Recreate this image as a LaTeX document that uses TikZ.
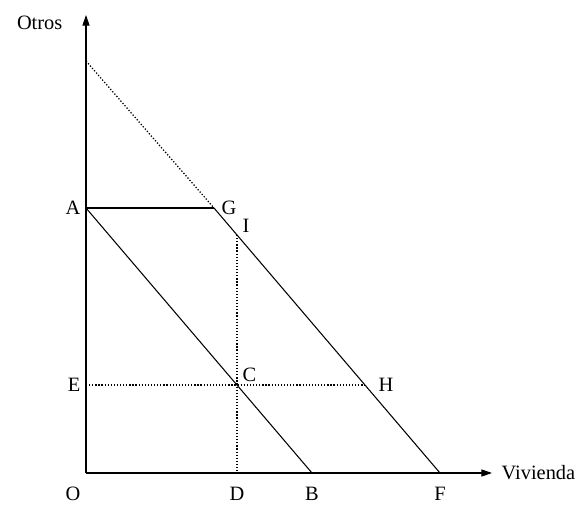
\documentclass[tikz,border=0pt]{standalone}
\usepackage{fontspec}
\setmainfont{Liberation Serif}
\usetikzlibrary{positioning,arrows.meta}
\tikzset{
  >={Triangle[length=7.5pt,width=5pt]},
  eje/.style={->, line width=0.75pt},
  recta/.style={line width=0.75pt},
  punteo/.style={line width=0.9pt, dash pattern=on 0.9pt off 1.3pt},
  etq/.style={inner sep=1pt, font=\fontsize{14.5}{16}\selectfont},
}

\begin{document}
\begin{tikzpicture}
  \useasboundingbox (-2.15,-1.05) rectangle (12.525,11.825);
  % Puntos
  \coordinate (O) at (0,0);
  \coordinate (Ytop) at (0,11.45);
  \coordinate (Xtop) at (10.15,0);
  \coordinate (A) at (0,6.625);
  \coordinate (P) at (0,10.3);
  \coordinate (G) at (3.2,6.625);
  \coordinate (I) at (3.774,5.95);
  \coordinate (E) at (0,2.2);
  \coordinate (C) at (3.774,2.2);
  \coordinate (H) at (6.974,2.2);
  \coordinate (D) at (3.774,0);
  \coordinate (B) at (5.65,0);
  \coordinate (F) at (8.85,0);
  % Ejes
  \draw[eje] (O) -- (Ytop);
  \draw[eje] (O) -- (Xtop);
  \node[etq, left=0.55cm of Ytop, yshift=-0.2cm] (lY) {Otros};
  \node[etq, right=0.2cm of Xtop] (lX) {Vivienda};
  % Rectas
  \draw[recta] (A) -- (G);
  \draw[recta] (A) -- (B);
  \draw[recta] (G) -- (F);
  \draw[punteo] (P) -- (G);
  \draw[punteo] (I) -- (D);
  \draw[punteo] (E) -- (H);
  % Etiquetas
  \node[etq, below left=0.3cm and 0.1cm of O] (lO) {O};
  \node[etq, left=0.1cm of A] (lA) {A};
  \node[etq, left=0.1cm of E] (lE) {E};
  \node[etq, below=0.3cm of D] (lD) {D};
  \node[etq, below=0.3cm of B] (lB) {B};
  \node[etq, below=0.3cm of F] (lF) {F};
  \node[etq, right=0.15cm of G] (lG) {G};
  \node[etq, above right=0.02cm and 0.1cm of I] (lI) {I};
  \node[etq, above right=0.05cm and 0.1cm of C] (lC) {C};
  \node[etq, right=0.3cm of H] (lH) {H};
\end{tikzpicture}
\end{document}
